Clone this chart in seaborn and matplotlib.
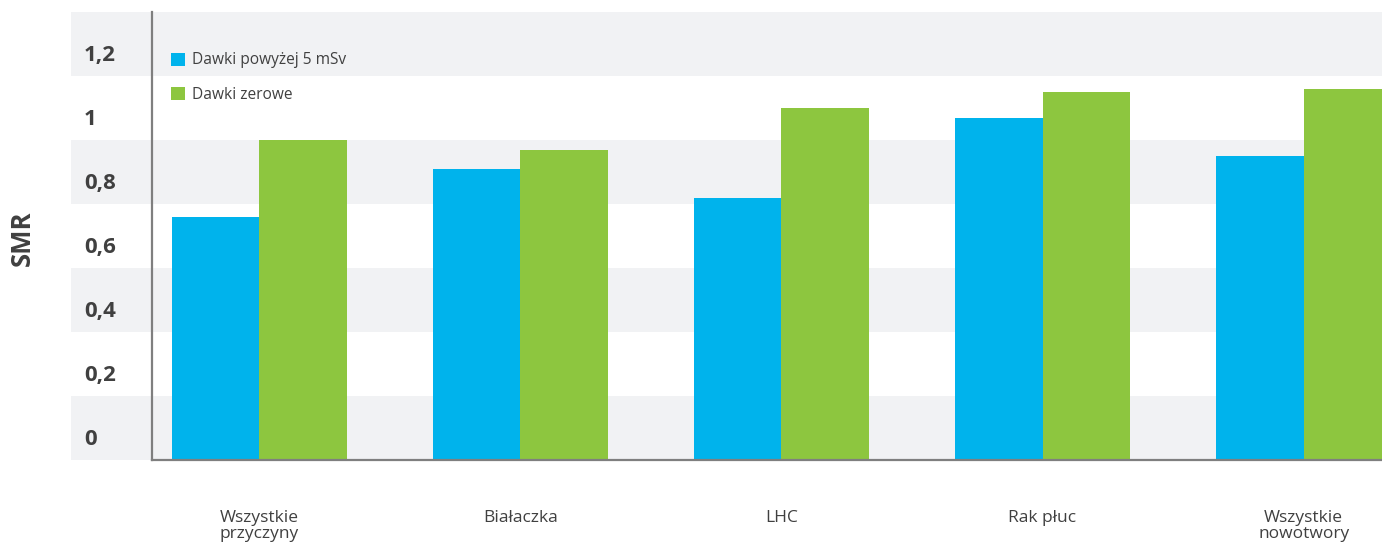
import matplotlib
matplotlib.use("Agg")
import matplotlib.pyplot as plt
import matplotlib.patches as mpatches
import matplotlib.transforms as mtransforms
import seaborn as sns
import pandas as pd

categories = ["Wszystkie\nprzyczyny", "Białaczka", "LHC", "Rak płuc", "Wszystkie\nnowotwory"]
series = ["Dawki powyżej 5 mSv", "Dawki zerowe"]
dawki_5msv = [0.76, 0.91, 0.82, 1.07, 0.95]
dawki_zerowe = [1.00, 0.97, 1.10, 1.15, 1.16]
tick_labels = ["0", "0,2", "0,4", "0,6", "0,8", "1", "1,2"]

colors = ["#00B3EC", "#8DC63F"]
text_color = "#404040"

df = pd.DataFrame({
    "cat": categories * 2,
    "val": dawki_5msv + dawki_zerowe,
    "series": [series[0]] * len(categories) + [series[1]] * len(categories),
})

sns.set_theme(style="white")
plt.rcParams["font.family"] = ["Open Sans", "DejaVu Sans"]

W, H = 1382, 542
fig = plt.figure(figsize=(W / 100, H / 100), dpi=100)
ax = fig.add_axes([152 / W, 1 - 460 / H, 1 - 152 / W, (460 - 12) / H])

# background bands
trans = mtransforms.blended_transform_factory(ax.transAxes, ax.transData)
x0 = (71 - 152) / (W - 152)
for i in range(7):
    if i % 2 == 0:
        ax.add_patch(mpatches.Rectangle((x0, 0.2 * i), 1 - x0, 0.2, transform=trans,
                                        facecolor="#F1F2F4", edgecolor="none",
                                        clip_on=False, zorder=0))

sns.barplot(data=df, x="cat", y="val", hue="series", palette=colors,
            width=0.67, saturation=1, ax=ax, zorder=2, legend=False,
            linewidth=0, edgecolor="none")

ax.set_xlim(-0.41, 4.30)
ax.set_ylim(0, 1.4)

for s in ["top", "right"]:
    ax.spines[s].set_visible(False)
for s in ["left", "bottom"]:
    ax.spines[s].set_color("#7F7F7F")
    ax.spines[s].set_linewidth(1.6)
    ax.spines[s].set_zorder(3)

ax.set_yticks([0.2 * i + 0.072 for i in range(len(tick_labels))])
ax.set_yticklabels(tick_labels, fontsize=16, fontweight="bold", color=text_color, ha="left")
ax.tick_params(axis="y", length=0, pad=49)
ax.tick_params(axis="x", length=0, pad=36, labelsize=12.5, labelcolor=text_color)
for t in ax.get_xticklabels():
    t.set_linespacing(0.97)
    t.set_va("top")
ax.set_xlabel("")
ax.set_ylabel("")

fig.text(22 / W, 1 - 238 / H, "SMR", rotation=90, fontsize=18.5, fontweight="bold",
         color=text_color, ha="center", va="center")

handles = [mpatches.Patch(facecolor=c, edgecolor="none", label=l) for c, l in zip(colors, series)]
leg = ax.legend(handles=handles, loc="upper left", bbox_to_anchor=(171 / W, 1 - 52.5 / H),
                bbox_transform=fig.transFigure, frameon=False, fontsize=11.2,
                handlelength=0.93, handleheight=0.93, handletextpad=0.45,
                labelspacing=1.2, borderpad=0, borderaxespad=0)
for t in leg.get_texts():
    t.set_color(text_color)

fig.savefig("out.png", dpi=100)
